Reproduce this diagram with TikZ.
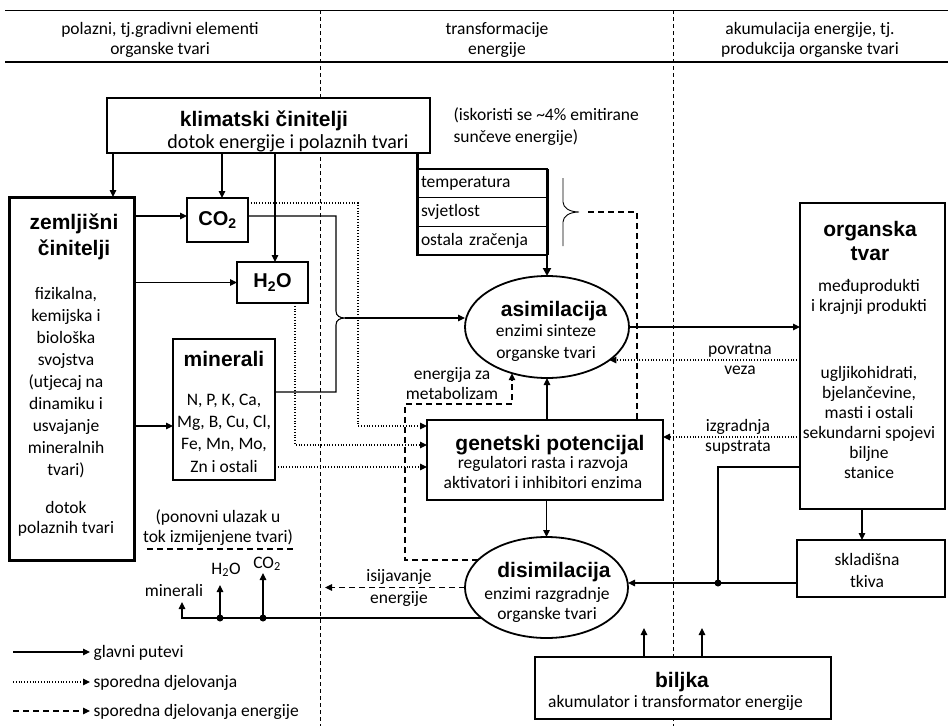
\documentclass[tikz,border=0pt]{standalone}
\usepackage{fontspec}
\setmainfont{Carlito}
\newfontfamily\arialfont{Liberation Sans}
\usetikzlibrary{arrows.meta,shapes.geometric,calc}
\begin{document}
\begin{tikzpicture}[x=1pt,y=-1pt,
  every path/.style={line width=1.1pt},
  box/.style={draw, fill=white, rectangle, inner sep=0pt, outer sep=0pt, line width=#1},
  box/.default=1.1pt,
  ell/.style={draw, fill=white, ellipse, inner sep=0pt, outer sep=0pt, line width=1.8pt},
  txt/.style={align=center, inner sep=0pt, yshift=-3pt, font=\fontsize{17.5}{#1}\selectfont,
    execute at begin node=\strut, execute at end node=\strut},
  txt/.default=20,
  ttl/.style={align=center, inner sep=0pt, yshift=-4pt, font=\arialfont\bfseries\fontsize{21}{#1}\selectfont,
    execute at begin node=\strut, execute at end node=\strut},
  ttl/.default=26,
  tab/.style={box, minimum width=130pt, minimum height=28.67pt, text width=122pt,
    inner xsep=4pt, align=left, anchor=north west, font=\fontsize{17.5}{20}\selectfont},
  arr/.style={-{Triangle[length=7pt,width=6.5pt]}},
  dotl/.style={dash pattern=on 1pt off 1.8pt},
  dsh/.style={dash pattern=on 6pt off 4pt},
  sep/.style={line width=0.9pt, dash pattern=on 4pt off 3pt},
  jdot/.style={fill, circle, inner sep=0pt, minimum size=7pt},
]
\useasboundingbox (0,0) rectangle (948,726);

% helper coordinates
\foreach \v in {113,182,220,222,263,275,295,325,336,358,405,512,637,644,702,718,862}
  {\coordinate (X\v) at (\v,0);}
\foreach \v in {203,216,392,404,426,437,445,467,549,560,583,602,618,628,360}
  {\coordinate (Y\v) at (0,\v);}

% header
\draw[line width=1pt] (5,10) -- (948,10);
\draw[line width=1.8pt] (5,62) -- (948,62);
\draw[sep] (320,10) -- (320,726);
\draw[sep] (673,10) -- (673,726);
\node[txt] (h1) at (160,38) {polazni, tj.gradivni elementi\\organske tvari};
\node[txt] (h2) at (497,38) {transformacije\\energije};
\node[txt] (h3) at (810,38) {akumulacija energije, tj.\\produkcija organske tvari};

% klimatski
\node[box=2pt, minimum width=323pt, minimum height=55pt] (klim) at (268.5,125.5) {};
\node[ttl] (klimT) at (264,117) {klimatski činitelji};
\node[txt, font=\fontsize{20}{24}\selectfont] (klimS) at (288,141) {dotok energije i polaznih tvari};
\node[txt=22, align=left, anchor=west] (isk) at (453,125) {(iskoristi se \textasciitilde4\% emitirane\\sunčeve energije)};

% zemljisni
\node[box=3pt, minimum width=125pt, minimum height=363pt] (zem) at (71.5,378.5) {};
\node[ttl] (zemT) at (74,235) {zemljišni\\činitelji};
\node[txt=22] (zemB) at (66,381.5) {fizikalna,\\kemijska i\\biološka\\svojstva\\(utjecaj na\\dinamiku i\\usvajanje\\mineralnih\\tvari)};
\node[txt] (zemD) at (66,517) {dotok\\polaznih tvari};

% CO2, H2O, minerali
\node[box=1.3pt, minimum width=61pt, minimum height=44pt, font=\arialfont\bfseries\fontsize{20}{24}\selectfont] (co2) at (217.5,220) {CO\textsubscript{2}};
\node[box=1.3pt, minimum width=71pt, minimum height=41pt, font=\arialfont\bfseries\fontsize{20}{24}\selectfont] (h2o) at (272.5,282.5) {H\textsubscript{2}O};
\node[box=1.1pt, minimum width=102pt, minimum height=141pt] (min) at (224,409.5) {};
\node[ttl] (minT) at (224,357) {minerali};
\node[txt=22.3] (minB) at (224,433.5) {N, P, K, Ca,\\Mg, B, Cu, Cl,\\Fe, Mn, Mo,\\Zn i ostali};

% table
\node[tab] (t1) at (417,169) {temperatura};
\node[tab] (t2) at (t1.south west) {svjetlost};
\node[tab] (t3) at (t2.south west) {ostala zračenja};
\draw[line width=3pt] (klim.south -| t1.west) -- (t3.south west);
\draw[line width=3pt] (t1.north east) -- (t3.south east);
\coordinate (btip) at (579,212);
\draw[line width=0.9pt] (563,178) -- (563,202) .. controls (563,208) and (570,212) .. (btip) .. controls (570,212) and (563,216) .. (563,222) -- (563,246);

% ellipses
\node[ell, minimum width=164pt, minimum height=102pt] (asim) at (547,327) {};
\node[ttl] (asimT) at (554,307) {asimilacija};
\node[txt=22] (asimB) at (546,342) {enzimi sinteze\\organske tvari};
\node[ell, minimum width=163pt, minimum height=101pt] (dis) at (546.5,587.5) {};
\node[ttl] (disT) at (554,568) {disimilacija};
\node[txt] (disB) at (547,603) {enzimi razgradnje\\organske tvari};

% genetski
\node[box=2.3pt, minimum width=236pt, minimum height=80pt] (gen) at (545,460) {};
\node[ttl] (genT) at (550,441) {genetski potencijal};
\node[txt=19.5] (genB) at (543,472.5) {regulatori rasta i razvoja\\aktivatori i inhibitori enzima};

% organska tvar
\node[box=1.3pt, minimum width=145pt, minimum height=306pt] (org) at (872.5,356) {};
\node[ttl=24] (orgT) at (870,240) {organska\\tvar};
\node[txt] (orgB1) at (869,295) {međuprodukti\\i krajnji produkti};
\node[txt] (orgB2) at (869,422) {ugljikohidrati,\\bjelančevine,\\masti i ostali\\sekundarni spojevi\\biljne\\stanice};

% skladisna
\node[box=1.1pt, minimum width=148pt, minimum height=57pt] (skl) at (871,568.5) {};
\node[txt=22] (sklT) at (867,571) {skladišna\\tkiva};

% biljka
\node[box=2.5pt, minimum width=296pt, minimum height=62pt] (bil) at (683,688) {};
\node[ttl] (bilT) at (682,678) {biljka};
\node[txt] (bilB) at (675.5,700) {akumulator i transformator energije};

% labels
\node[txt] (lEn) at (452,383) {energija za\\metabolizam};
\node[txt] (lPov) at (740,359) {povratna\\veza};
\node[txt] (lIzg) at (738,435) {izgradnja\\supstrata};
\node[txt=22] (lIsi) at (399,587) {isijavanje\\energije};
\node[txt] (lPon) at (218,526) {(ponovni ulazak u\\tok izmijenjene tvari)};
\node[txt] (lMin) at (174,589) {minerali};
\node[txt] (lH) at (226,567) {H\textsubscript{2}O};
\node[txt] (lC) at (267,561) {CO\textsubscript{2}};

% connectors from klimatski
\draw[arr] (klim.south -| X113) -- (zem.north -| X113);
\draw[arr] (klim.south -| X222) -- (co2.north -| X222);
\draw[arr] (klim.south -| X275) -- (h2o.north -| X275);
\draw[line width=2.5pt, -{Triangle[length=8pt,width=8pt]}] (t3.south east) -- (asim.north);
\draw[dsh] ([xshift=9pt]btip) -- (btip -| X637) -- (gen.north -| X637);

% from zemljisni
\draw[arr] (zem.east |- Y216) -- (co2.west |- Y216);
\draw[arr] (zem.east |- h2o.west) -- (h2o.west);
\draw[arr] (zem.east |- Y426) -- (min.west |- Y426);

% brace CO2 / minerali -> asimilacija
\coordinate (ctip) at (345,318);
\draw (co2.east |- Y216) -- (X336 |- Y216) -- (336,311) .. controls (336,316) and (340,318) .. (ctip) .. controls (340,318) and (336,320) .. (336,325) -- (X336 |- Y392) -- (min.east |- Y392);
\draw[arr] (ctip) -- (ctip -| asim.west);

% dotted to genetski
\draw[dotl, arr] (co2.east |- Y203) -- (X358 |- Y203) -- (X358 |- Y426) -- (gen.west |- Y426);
\draw[dotl, arr] (h2o.south -| X295) -- (X295 |- Y445) -- (gen.west |- Y445);
\draw[dotl, arr] (min.east |- Y467) -- (gen.west |- Y467);

% asimilacija / organska
\draw[arr] (asim.east) -- (asim.east -| org.west);
\draw[dotl, arr] (org.west |- Y360) -- (Y360 -| asim.-28);
\draw[dotl, arr] (org.west |- Y437) -- (gen.east |- Y437);
\draw[arr] (gen.north -| asim.south) -- (asim.south);
\draw[arr] (gen.south -| dis.north) -- (dis.north);

% energy
\draw[dsh, arr] (Y560 -| dis.158) -- (X405 |- Y560) -- (X405 |- Y404) -- (X512 |- Y404) -- (X512 |- asim.233);
\draw[dsh, arr] (dis.west) -- (dis.west -| X325);

% bottom return lines
\coordinate (mEnd) at (182,602);
\coordinate (hEnd) at (220,585);
\coordinate (cEnd) at (263,573);
\coordinate (jH) at (220,618);
\coordinate (jC) at (263,618);
\draw[arr] (Y618 -| dis.205) -- (X182 |- Y618) -- (mEnd);
\draw[arr] (jH) -- (hEnd);
\draw[arr] (jC) -- (cEnd);
\node[jdot] (dH) at (jH) {};
\node[jdot] (dC) at (jC) {};
\draw[dsh] (147,549) -- (293,549);

% skladisna
\coordinate (jS) at (718,583);
\draw[arr] (skl.west |- Y583) -- (Y583 -| dis.east);
\draw (org.west |- Y467) -- (X718 |- Y467) -- (jS);
\node[jdot] (dS) at (jS) {};
\draw[arr] (org.south -| X862) -- (skl.north -| X862);

% biljka
\draw[arr] (bil.north -| X644) -- (X644 |- Y628);
\draw[arr] (bil.north -| X702) -- (X702 |- Y628);

% legend
\coordinate (L1a) at (13,652); \coordinate (L1b) at (90,652);
\coordinate (L2a) at (13,682); \coordinate (L2b) at (90,682);
\coordinate (L3a) at (13,711); \coordinate (L3b) at (90,711);
\draw[arr] (L1a) -- (L1b);
\draw[dotl, arr] (L2a) -- (L2b);
\draw[dsh, arr] (L3a) -- (L3b);
\node[txt, anchor=west] (g1) at (93,650) {glavni putevi};
\node[txt, anchor=west] (g2) at (93,680) {sporedna djelovanja};
\node[txt, anchor=west] (g3) at (93,709) {sporedna djelovanja energije};
\end{tikzpicture}
\end{document}
